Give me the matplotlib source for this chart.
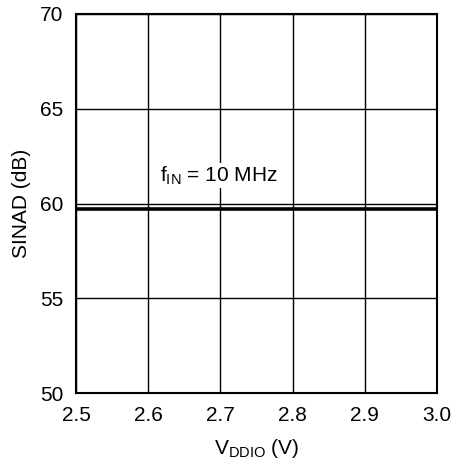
import numpy as np
import matplotlib.pyplot as plt

plt.rcParams['font.family'] = ['Liberation Sans', 'DejaVu Sans']
plt.rcParams['mathtext.fontset'] = 'custom'
plt.rcParams['mathtext.rm'] = 'Liberation Sans'
plt.rcParams['mathtext.it'] = 'Liberation Sans'

# SINAD versus I/O supply voltage
vddio = [2.5, 2.6, 2.7, 2.8, 2.9, 3.0]
sinad = [59.73, 59.73, 59.73, 59.73, 59.73, 59.73]

x_ticks = [2.5, 2.6, 2.7, 2.8, 2.9, 3.0]
y_ticks = [50, 55, 60, 65, 70]

fig = plt.figure(figsize=(4.56, 4.62), dpi=100)
ax = fig.add_axes([0.167, 0.149, 0.791, 0.821])

ax.plot(vddio, sinad, color='black', lw=2.6, zorder=3)

ax.set_xlim(2.5, 3.0)
ax.set_ylim(50, 70)
ax.set_xticks(x_ticks)
ax.set_xticklabels(['%.1f' % v for v in x_ticks])
ax.set_yticks(y_ticks)
ax.grid(True, color='black', lw=1.0)
ax.tick_params(length=0, labelsize=15)
ax.tick_params(axis='x', pad=9)
ax.tick_params(axis='y', pad=9)
for s in ax.spines.values():
    s.set_linewidth(1.5)

ax.text(2.616, 61.15, r'f$_{\mathrm{IN}}$ = 10 MHz', fontsize=15,
        bbox=dict(facecolor='white', edgecolor='none', pad=1), zorder=4)

ax.set_xlabel(r'V$_{\mathrm{DDIO}}$ (V)', fontsize=15, labelpad=9)
ax.set_ylabel('SINAD (dB)', fontsize=15, labelpad=7)

fig.savefig('out.png', dpi=100)
